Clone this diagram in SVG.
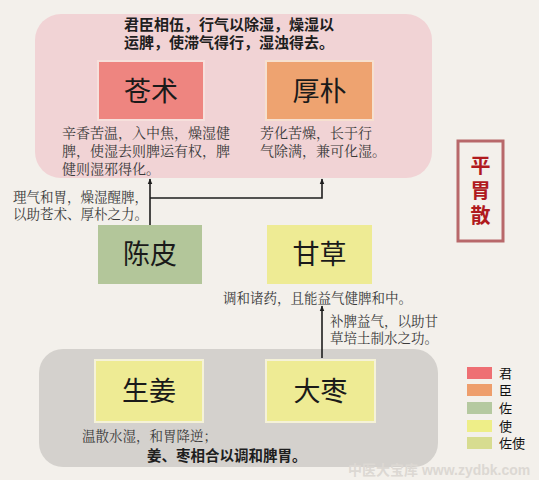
<svg xmlns="http://www.w3.org/2000/svg" width="539" height="480" viewBox="0 0 539 480">
<defs>
<style>
.t{font-family:"Liberation Sans","Noto Sans CJK SC",sans-serif;}
.s{font-family:"Liberation Serif","Noto Serif CJK SC","Noto Sans CJK SC",serif;font-size:13.5px;fill:#3a3a3a;}
.m{font-size:14px;}
.big{font-family:"Liberation Sans","Noto Sans CJK SC",sans-serif;font-size:27px;fill:#1a1a1a;text-anchor:middle;}
.bold{font-family:"Liberation Sans","Noto Sans CJK SC",sans-serif;fill:#1e1e1e;font-weight:bold;}
.ln{stroke:#1e1e1e;stroke-width:1.6;fill:none;}
.leg{font-family:"Liberation Sans","Noto Sans CJK SC",sans-serif;font-size:13px;fill:#111;}
.ti{font-family:"Liberation Sans","Noto Sans CJK SC",sans-serif;font-size:20px;font-weight:bold;fill:#b01a1e;text-anchor:middle;}
</style>
<marker id="ah" viewBox="0 0 10 10" refX="9" refY="5" markerWidth="6" markerHeight="6" orient="auto-start-reverse" markerUnits="userSpaceOnUse">
<path d="M0,1 L10,5 L0,9 z" fill="#1e1e1e"/>
</marker>
</defs>
<rect width="539" height="480" fill="#f3f0eb"/>
<g id="group-top">
<rect x="35" y="14" width="397" height="164" rx="26" fill="#f1d3d5"/>
<text class="bold" font-size="15"><tspan x="124" y="30">君臣相伍，行气以除湿，燥湿以</tspan><tspan x="124" y="48">运脾，使滞气得行，湿浊得去。</tspan></text>
</g>
<g id="group-bottom">
<rect x="39" y="349" width="399" height="118" rx="24" fill="#d4d1cd"/>
<text class="bold" x="147" y="461" font-size="14.5">姜、枣相合以调和脾胃。</text>
</g>
<g id="connectors">
<line class="ln" x1="150" y1="225" x2="150" y2="179" marker-end="url(#ah)"/>
<polyline class="ln" points="150,198 322,198 322,179" marker-end="url(#ah)"/>
<line class="ln" x1="322" y1="358" x2="322" y2="306" marker-end="url(#ah)"/>
</g>
<g id="node-cangzhu">
<rect x="98" y="61" width="106" height="59" fill="#ee8580" stroke="#f6e0dc" stroke-width="2"/>
<text class="big" x="151" y="101">苍术</text>
<text class="s m"><tspan x="62" y="138">辛香苦温，入中焦，燥湿健</tspan><tspan x="62" y="156">脾，使湿去则脾运有权，脾</tspan><tspan x="62" y="174">健则湿邪得化。</tspan></text>
</g>
<g id="node-houpo">
<rect x="266" y="61" width="107" height="59" fill="#eea370" stroke="#f6e0d0" stroke-width="2"/>
<text class="big" x="319.5" y="101">厚朴</text>
<text class="s m"><tspan x="260" y="138">芳化苦燥，长于行</tspan><tspan x="260" y="156">气除满，兼可化湿。</tspan></text>
</g>
<g id="node-chenpi">
<rect x="98" y="225" width="104" height="59" fill="#b3c69a"/>
<text class="big" x="150" y="264">陈皮</text>
<text class="s"><tspan x="13" y="202">理气和胃，燥湿醒脾，</tspan><tspan x="13" y="219">以助苍术、厚朴之力。</tspan></text>
</g>
<g id="node-gancao">
<rect x="267" y="225" width="105" height="59" fill="#eeeb94"/>
<text class="big" x="319.5" y="264">甘草</text>
<text class="s" x="223" y="303">调和诸药，且能益气健脾和中。</text>
<text class="s"><tspan x="330" y="326">补脾益气，以助甘</tspan><tspan x="330" y="343">草培土制水之功。</tspan></text>
</g>
<g id="node-shengjiang">
<rect x="95" y="360" width="108" height="62" fill="#eeeb94" stroke="#f5f2d8" stroke-width="2"/>
<text class="big" x="149" y="401">生姜</text>
<text class="s" x="82" y="441">温散水湿，和胃降逆；</text>
</g>
<g id="node-dazao">
<rect x="266" y="360" width="109" height="62" fill="#eeeb94" stroke="#f5f2d8" stroke-width="2"/>
<text class="big" x="320.5" y="401">大枣</text>
</g>
<g id="title">
<rect x="458" y="141" width="45" height="100" fill="#f3f0eb" stroke="#b8686a" stroke-width="3"/>
<text class="ti"><tspan x="480.5" y="173">平</tspan><tspan x="480.5" y="198">胃</tspan><tspan x="480.5" y="223">散</tspan></text>
</g>
<g id="legend">
<rect x="467" y="367" width="25" height="12" fill="#ee6f73"/>
<rect x="467" y="384" width="25" height="12" fill="#ee9e6c"/>
<rect x="467" y="402" width="25" height="12" fill="#b5c9a0"/>
<rect x="467" y="420" width="25" height="12" fill="#eeee88"/>
<rect x="467" y="437" width="25" height="12" fill="#d7dc90"/>
<text class="leg" x="499" y="378">君</text>
<text class="leg" x="499" y="395">臣</text>
<text class="leg" x="499" y="413">佐</text>
<text class="leg" x="499" y="431">使</text>
<text class="leg" x="499" y="448">佐使</text>
</g>
<text class="t" x="348" y="475" font-size="14" font-weight="bold" fill="#dcd8d3">中医大宝库 www.zydbk.com</text>
</svg>
